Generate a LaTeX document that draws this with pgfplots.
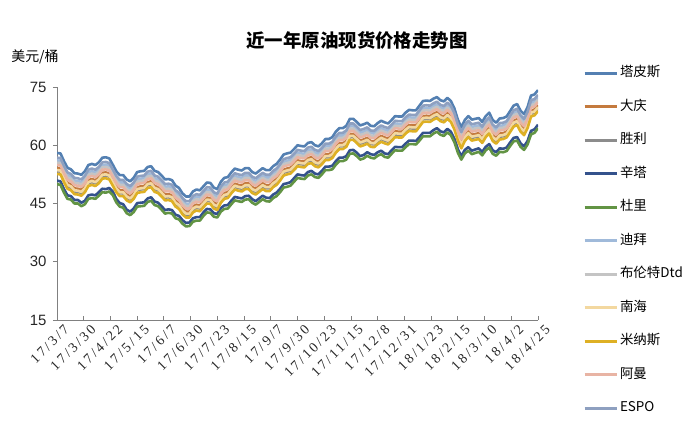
\documentclass[border=0pt]{standalone}
\usepackage{fontspec}
\setmainfont{Liberation Sans}
\newfontfamily\cjk{Noto Sans CJK SC}
\newfontfamily\datefont[LetterSpace=18]{Liberation Serif}
\usepackage{pgfplots}
\pgfplotsset{compat=1.18}
\usepackage{pgfplotstable}

\definecolor{cTapis}{RGB}{84,128,178}
\definecolor{cDaqing}{RGB}{196,122,62}
\definecolor{cShengli}{RGB}{140,140,140}
\definecolor{cSinta}{RGB}{52,82,140}
\definecolor{cDuri}{RGB}{98,148,68}
\definecolor{cDubai}{RGB}{160,186,218}
\definecolor{cBrent}{RGB}{196,196,196}
\definecolor{cNanhai}{RGB}{243,216,160}
\definecolor{cMinas}{RGB}{222,176,36}
\definecolor{cOman}{RGB}{232,180,164}
\definecolor{cEspo}{RGB}{142,160,192}
\definecolor{axisgray}{RGB}{128,128,128}

% d = days since 2017-03-07
\pgfplotstableread{
d   tapis daqing shengli sinta duri dubai brent nanhai minas oman espo
0   58.0 54.1 53.3 50.9 50.0 56.1 55.5 53.6 52.6 54.9 56.8
3   57.9 54.0 53.2 50.7 49.8 56.0 55.4 53.5 52.5 54.8 56.7
6   55.9 52.0 51.2 48.7 47.8 54.0 53.4 51.5 50.5 52.8 54.7
9   54.2 50.3 49.5 47.1 46.2 52.3 51.7 49.8 48.8 51.1 53.0
12  53.8 49.9 49.1 46.9 46.0 51.9 51.3 49.4 48.4 50.7 52.6
15  52.8 48.9 48.1 45.9 45.0 50.9 50.3 48.4 47.4 49.7 51.6
18  52.7 48.8 48.0 45.9 45.0 50.8 50.2 48.3 47.3 49.6 51.5
21  52.4 48.5 47.7 45.2 44.3 50.5 49.9 48.0 47.0 49.3 51.2
24  53.3 49.4 48.6 45.7 44.8 51.4 50.8 48.9 47.9 50.2 52.1
27  54.9 51.0 50.2 47.1 46.2 53.0 52.4 50.5 49.5 51.8 53.7
30  55.2 51.3 50.5 47.3 46.4 53.3 52.7 50.8 49.8 52.1 54.0
33  54.9 51.0 50.2 47.1 46.2 53.0 52.4 50.5 49.5 51.8 53.7
36  55.6 51.7 50.9 47.9 47.0 53.7 53.1 51.2 50.2 52.5 54.4
39  56.8 52.9 52.1 48.8 47.9 54.9 54.3 52.4 51.4 53.7 55.6
42  56.9 53.0 52.2 48.7 47.8 55.0 54.4 52.5 51.5 53.8 55.7
45  56.6 52.7 51.9 49.0 48.1 54.7 54.1 52.2 51.2 53.5 55.4
48  55.0 51.1 50.3 48.1 47.2 53.1 52.5 50.6 49.6 51.9 53.8
51  53.3 49.4 48.6 46.2 45.3 51.4 50.8 48.9 47.9 50.2 52.1
54  52.3 48.4 47.6 45.1 44.2 50.4 49.8 47.9 46.9 49.2 51.1
57  52.3 48.4 47.6 44.8 43.9 50.4 49.8 47.9 46.9 49.2 51.1
60  51.2 47.3 46.5 43.4 42.5 49.3 48.7 46.8 45.8 48.1 50.0
63  50.7 46.8 46.0 42.9 42.0 48.8 48.2 46.3 45.3 47.6 49.5
66  51.6 47.7 46.9 43.7 42.8 49.7 49.1 47.2 46.2 48.5 50.4
69  53.1 49.2 48.4 45.1 44.2 51.2 50.6 48.7 47.7 50.0 51.9
72  53.3 49.4 48.6 45.2 44.3 51.4 50.8 48.9 47.9 50.2 52.1
75  53.4 49.5 48.7 45.3 44.4 51.5 50.9 49.0 48.0 50.3 52.2
78  54.4 50.5 49.7 46.3 45.4 52.5 51.9 50.0 49.0 51.3 53.2
81  54.6 50.7 49.9 46.6 45.7 52.7 52.1 50.2 49.2 51.5 53.4
84  53.4 49.5 48.7 45.5 44.6 51.5 50.9 49.0 48.0 50.3 52.2
87  53.1 49.2 48.4 45.2 44.3 51.2 50.6 48.7 47.7 50.0 51.9
90  52.2 48.3 47.5 44.3 43.4 50.3 49.7 47.8 46.8 49.1 51.0
93  51.2 47.3 46.5 43.3 42.4 49.3 48.7 46.8 45.8 48.1 50.0
96  51.3 47.4 46.6 43.5 42.6 49.4 48.8 46.9 45.9 48.2 50.1
99  51.0 47.1 46.3 43.3 42.4 49.1 48.5 46.6 45.6 47.9 49.8
102 49.6 45.7 44.9 42.1 41.2 47.7 47.1 45.2 44.2 46.5 48.4
105 49.0 45.1 44.3 41.8 40.9 47.1 46.5 44.6 43.6 45.9 47.8
108 47.6 43.7 42.9 40.7 39.8 45.7 45.1 43.2 42.2 44.5 46.4
111 46.8 42.9 42.1 40.0 39.1 44.9 44.3 42.4 41.4 43.7 45.6
114 46.8 42.9 42.1 40.1 39.2 44.9 44.3 42.4 41.4 43.7 45.6
117 48.1 44.2 43.4 41.2 40.3 46.2 45.6 43.7 42.7 45.0 46.9
120 48.6 44.7 43.9 41.5 40.6 46.7 46.1 44.2 43.2 45.5 47.4
123 48.4 44.5 43.7 41.5 40.6 46.5 45.9 44.0 43.0 45.3 47.2
126 49.4 45.5 44.7 42.7 41.8 47.5 46.9 45.0 44.0 46.3 48.2
129 50.4 46.5 45.7 43.6 42.7 48.5 47.9 46.0 45.0 47.3 49.2
132 50.3 46.4 45.6 43.5 42.6 48.4 47.8 45.9 44.9 47.2 49.1
135 49.1 45.2 44.4 42.5 41.6 47.2 46.6 44.7 43.7 46.0 47.9
138 48.7 44.8 44.0 42.3 41.4 46.8 46.2 44.3 43.3 45.6 47.5
141 50.6 46.7 45.9 43.8 42.9 48.7 48.1 46.2 45.2 47.5 49.4
144 51.6 47.7 46.9 44.5 43.6 49.7 49.1 47.2 46.2 48.5 50.4
147 51.8 47.9 47.1 44.6 43.7 49.9 49.3 47.4 46.4 48.7 50.6
150 53.0 49.1 48.3 45.7 44.8 51.1 50.5 48.6 47.6 49.9 51.8
153 54.0 50.1 49.3 46.7 45.8 52.1 51.5 49.6 48.6 50.9 52.8
156 53.7 49.8 49.0 46.5 45.6 51.8 51.2 49.3 48.3 50.6 52.5
159 53.5 49.6 48.8 46.3 45.4 51.6 51.0 49.1 48.1 50.4 52.3
162 54.1 50.2 49.4 46.9 46.0 52.2 51.6 49.7 48.7 51.0 52.9
165 54.1 50.2 49.4 47.0 46.1 52.2 51.6 49.7 48.7 51.0 52.9
168 53.1 49.2 48.4 46.1 45.2 51.2 50.6 48.7 47.7 50.0 51.9
171 52.7 48.8 48.0 45.6 44.7 50.8 50.2 48.3 47.3 49.6 51.5
174 53.4 49.5 48.7 46.3 45.4 51.5 50.9 49.0 48.0 50.3 52.2
177 54.1 50.2 49.4 47.0 46.1 52.2 51.6 49.7 48.7 51.0 52.9
180 53.6 49.7 48.9 46.5 45.6 51.7 51.1 49.2 48.2 50.5 52.4
183 53.6 49.7 48.9 46.4 45.5 51.7 51.1 49.2 48.2 50.5 52.4
186 54.6 50.7 49.9 47.3 46.4 52.7 52.1 50.2 49.2 51.5 53.4
189 55.2 51.3 50.5 47.8 46.9 53.3 52.7 50.8 49.8 52.1 54.0
192 56.3 52.4 51.6 48.8 47.9 54.4 53.8 51.9 50.9 53.2 55.1
195 57.6 53.7 52.9 50.0 49.1 55.7 55.1 53.2 52.2 54.5 56.4
198 57.9 54.0 53.2 50.2 49.3 56.0 55.4 53.5 52.5 54.8 56.7
201 58.1 54.2 53.4 50.5 49.6 56.2 55.6 53.7 52.7 55.0 56.9
204 59.0 55.1 54.3 51.5 50.6 57.1 56.5 54.6 53.6 55.9 57.8
207 60.0 56.1 55.3 52.5 51.6 58.1 57.5 55.6 54.6 56.9 58.8
210 59.8 55.9 55.1 52.3 51.4 57.9 57.3 55.4 54.4 56.7 58.6
213 59.7 55.8 55.0 52.2 51.3 57.8 57.2 55.3 54.3 56.6 58.5
216 60.6 56.7 55.9 53.1 52.2 58.7 58.1 56.2 55.2 57.5 59.4
219 60.8 56.9 56.1 53.4 52.5 58.9 58.3 56.4 55.4 57.7 59.6
222 60.0 56.1 55.3 52.7 51.8 58.1 57.5 55.6 54.6 56.9 58.8
225 59.7 55.8 55.0 52.5 51.6 57.8 57.2 55.3 54.3 56.6 58.5
228 60.5 56.6 55.8 53.4 52.5 58.6 58.0 56.1 55.1 57.4 59.3
231 61.6 57.7 56.9 54.5 53.6 59.7 59.1 57.2 56.2 58.5 60.4
234 61.6 57.7 56.9 54.5 53.6 59.7 59.1 57.2 56.2 58.5 60.4
237 62.1 58.2 57.4 54.7 53.8 60.2 59.6 57.7 56.7 59.0 60.9
240 63.5 59.6 58.8 55.9 55.0 61.6 61.0 59.1 58.1 60.4 62.3
243 64.4 60.5 59.7 56.8 55.9 62.5 61.9 60.0 59.0 61.3 63.2
246 64.4 60.5 59.7 56.8 55.9 62.5 61.9 60.0 59.0 61.3 63.2
249 65.0 61.1 60.3 57.2 56.3 63.1 62.5 60.6 59.6 61.9 63.8
252 66.8 62.9 62.1 58.7 57.8 64.9 64.3 62.4 61.4 63.7 65.6
255 66.8 62.9 62.1 58.8 57.9 64.9 64.3 62.4 61.4 63.7 65.6
258 66.0 62.1 61.3 58.1 57.2 64.1 63.5 61.6 60.6 62.9 64.8
261 65.1 61.2 60.4 57.2 56.3 63.2 62.6 60.7 59.7 62.0 63.9
264 65.4 61.5 60.7 57.5 56.6 63.5 62.9 61.0 60.0 62.3 64.2
267 65.8 61.9 61.1 58.2 57.3 63.9 63.3 61.4 60.4 62.7 64.6
270 65.0 61.1 60.3 57.7 56.8 63.1 62.5 60.6 59.6 61.9 63.8
273 64.9 61.0 60.2 57.5 56.6 63.0 62.4 60.5 59.5 61.8 63.7
276 65.7 61.8 61.0 58.2 57.3 63.8 63.2 61.3 60.3 62.6 64.5
279 66.3 62.4 61.6 58.6 57.7 64.4 63.8 61.9 60.9 63.2 65.1
282 65.9 62.0 61.2 57.9 57.0 64.0 63.4 61.5 60.5 62.8 64.7
285 65.6 61.7 60.9 57.7 56.8 63.7 63.1 61.2 60.2 62.5 64.4
288 66.5 62.6 61.8 58.7 57.8 64.6 64.0 62.1 61.1 63.4 65.3
291 67.5 63.6 62.8 59.6 58.7 65.6 65.0 63.1 62.1 64.4 66.3
294 67.4 63.5 62.7 59.5 58.6 65.5 64.9 63.0 62.0 64.3 66.2
297 67.4 63.5 62.7 59.5 58.6 65.5 64.9 63.0 62.0 64.3 66.2
300 68.4 64.5 63.7 60.4 59.5 66.5 65.9 64.0 63.0 65.3 67.2
303 69.1 65.2 64.4 61.2 60.3 67.2 66.6 64.7 63.7 66.0 67.9
306 69.0 65.1 64.3 61.2 60.3 67.1 66.5 64.6 63.6 65.9 67.8
309 69.0 65.1 64.3 61.1 60.2 67.1 66.5 64.6 63.6 65.9 67.8
312 70.2 66.3 65.5 62.1 61.2 68.3 67.7 65.8 64.8 67.1 69.0
315 71.4 67.5 66.7 63.2 62.3 69.5 68.9 67.0 66.0 68.3 70.2
318 71.5 67.6 66.8 63.2 62.3 69.6 69.0 67.1 66.1 68.4 70.3
321 71.4 67.5 66.7 63.2 62.3 69.5 68.9 67.0 66.0 68.3 70.2
324 72.0 68.1 67.3 63.9 63.0 70.1 69.5 67.6 66.6 68.9 70.8
327 72.4 68.5 67.7 64.4 63.5 70.5 69.9 68.0 67.0 69.3 71.2
330 71.6 67.7 66.9 63.6 62.7 69.7 69.1 67.2 66.2 68.5 70.4
333 71.3 67.4 66.6 63.3 62.4 69.4 68.8 66.9 65.9 68.2 70.1
336 72.2 68.3 67.5 64.2 63.3 70.3 69.7 67.8 66.8 69.1 71.0
339 71.4 67.5 66.7 63.5 62.6 69.5 68.9 67.0 66.0 68.3 70.2
342 69.5 65.6 64.8 61.7 60.8 67.6 67.0 65.1 64.1 66.4 68.3
345 66.6 62.7 61.9 59.0 58.1 64.7 64.1 62.2 61.2 63.5 65.4
348 64.6 60.7 59.9 57.2 56.3 62.7 62.1 60.2 59.2 61.5 63.4
351 66.5 62.6 61.8 58.8 57.9 64.6 64.0 62.1 61.1 63.4 65.3
354 67.5 63.6 62.8 59.5 58.6 65.6 65.0 63.1 62.1 64.4 66.3
357 66.6 62.7 61.9 58.6 57.7 64.7 64.1 62.2 61.2 63.5 65.4
360 66.8 62.9 62.1 58.9 58.0 64.9 64.3 62.4 61.4 63.7 65.6
363 67.0 63.1 62.3 59.2 58.3 65.1 64.5 62.6 61.6 63.9 65.8
366 66.0 62.1 61.3 58.3 57.4 64.1 63.5 61.6 60.6 62.9 64.8
369 67.5 63.6 62.8 59.6 58.7 65.6 65.0 63.1 62.1 64.4 66.3
372 68.4 64.5 63.7 60.3 59.4 66.5 65.9 64.0 63.0 65.3 67.2
375 66.5 62.6 61.8 58.7 57.8 64.6 64.0 62.1 61.1 63.4 65.3
378 65.8 61.9 61.1 58.2 57.3 63.9 63.3 61.4 60.4 62.7 64.6
381 66.9 63.0 62.2 59.2 58.3 65.0 64.4 62.5 61.5 63.8 65.7
384 67.0 63.1 62.3 59.1 58.2 65.1 64.5 62.6 61.6 63.9 65.8
387 67.4 63.5 62.7 59.4 58.5 65.5 64.9 63.0 62.0 64.3 66.2
390 68.8 64.9 64.1 60.7 59.8 66.9 66.3 64.4 63.4 65.7 67.6
393 70.2 66.3 65.5 61.9 61.0 68.3 67.7 65.8 64.8 67.1 69.0
396 70.6 66.7 65.9 62.1 61.2 68.7 68.1 66.2 65.2 67.5 69.4
399 68.9 65.0 64.2 60.5 59.6 67.0 66.4 64.5 63.5 65.8 67.7
402 68.0 64.1 63.3 59.7 58.8 66.1 65.5 63.6 62.6 64.9 66.8
405 69.8 65.9 65.1 61.1 60.2 67.9 67.3 65.4 64.4 66.7 68.6
408 72.8 68.9 68.1 63.7 62.8 70.9 70.3 68.4 67.4 69.7 71.6
411 73.1 69.2 68.4 64.1 63.2 71.2 70.6 68.7 67.7 70.0 71.9
414 74.2 70.3 69.5 65.3 64.4 72.3 71.7 69.8 68.8 71.1 73.0
}\prices

\begin{document}
\begin{tikzpicture}
\path[use as bounding box] (-57bp,-101bp) rectangle (643bp,320bp);
\begin{axis}[
    scale only axis,
    width=481bp, height=233bp,
    xmin=0, xmax=414,
    ymin=15, ymax=75,
    axis x line*=bottom,
    axis y line*=left,
    axis line style={axisgray, line width=1bp, -},
    tick style={axisgray, line width=0.8bp},
    tick align=inside,
    major tick length=4bp,
    ytick style={xshift=-4bp},
    xtick={0,23,...,414},
    xticklabels={17/3/7,17/3/30,17/4/22,17/5/15,17/6/7,17/6/30,17/7/23,17/8/15,17/9/7,17/9/30,17/10/23,17/11/15,17/12/8,17/12/31,18/1/23,18/2/15,18/3/10,18/4/2,18/4/25},
    xticklabel style={font=\datefont\fontsize{14}{14}\selectfont, rotate=45, anchor=north east, inner sep=1bp, xshift=3bp, yshift=-6bp, text=black!85},
    ytick={15,30,45,60,75},
    yticklabel style={font=\fontsize{15}{15}\selectfont, text=black!85, xshift=-7bp},
    /pgf/number format/assume math mode=true,
    legend style={
        at={(1.087,1.107)}, anchor=north west,
        draw=none, fill=none,
        font=\cjk\fontsize{13.5}{13.5}\selectfont,
        row sep=16bp,
        nodes={inner sep=2bp, text height=10.5bp, text depth=3bp},
    },
    legend cell align=left,
    legend image code/.code={\draw[#1, line width=3bp] (0bp,0bp) -- (32bp,0bp);},
    every axis plot/.append style={line width=2.6bp, line join=round},
]
\addplot[cTapis]   table[x=d, y=tapis]   {\prices};
\addplot[cDaqing]  table[x=d, y=daqing]  {\prices};
\addplot[cShengli] table[x=d, y=shengli] {\prices};
\addplot[cSinta]   table[x=d, y=sinta]   {\prices};
\addplot[cDuri]    table[x=d, y=duri]    {\prices};
\addplot[cDubai]   table[x=d, y=dubai]   {\prices};
\addplot[cBrent]   table[x=d, y=brent]   {\prices};
\addplot[cNanhai]  table[x=d, y=nanhai]  {\prices};
\addplot[cMinas]   table[x=d, y=minas]   {\prices};
\addplot[cOman]    table[x=d, y=oman]    {\prices};
\addplot[cEspo]    table[x=d, y=espo]    {\prices};
\legend{塔皮斯,大庆,胜利,辛塔,杜里,迪拜,布伦特Dtd,南海,米纳斯,阿曼,ESPO}
\end{axis}
\node[font=\cjk\bfseries\fontsize{18.5}{20}\selectfont] at (300bp,280bp) {近一年原油现货价格走势图};
\node[font=\cjk\fontsize{14}{15}\selectfont] at (-22bp,263bp) {美元/桶};
\end{tikzpicture}
\end{document}
